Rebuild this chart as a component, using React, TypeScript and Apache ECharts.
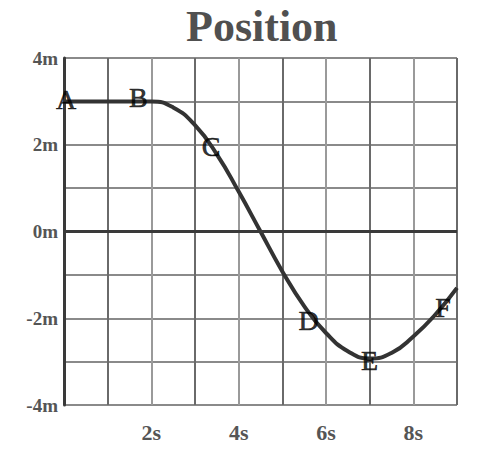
import React, { useEffect, useRef } from "react";
import * as echarts from "echarts";

const timeSec = [0, 1, 2, 2.5, 3, 3.5, 4, 4.5, 5, 5.5, 6, 6.5, 7, 7.5, 8, 8.5, 9];
const positionM = [3, 3, 3, 2.86, 2.45, 1.78, 0.92, 0, -0.92, -1.72, -2.34, -2.76, -2.93, -2.8, -2.42, -1.92, -1.3];

const pointNames = ["A", "B", "C", "D", "E", "F"];
const pointX = [0.05, 1.7, 3.37, 5.6, 7.0, 8.68];
const pointY = [3.05, 3.08, 1.95, -2.05, -2.97, -1.75];

const xTickLabels: Record<number, string> = { 2: "2s", 4: "4s", 6: "6s", 8: "8s" };
const yTickLabels: Record<number, string> = { 4: "4m", 2: "2m", 0: "0m", [-2]: "-2m", [-4]: "-4m" };

export default function App() {
  const ref = useRef<HTMLDivElement>(null);
  useEffect(() => {
    if (!ref.current) return;
    const chart = echarts.init(ref.current, null, { renderer: "svg" });
    const serif = "Liberation Serif";
    chart.setOption({
      animation: false,
      backgroundColor: "#fff",
      title: {
        text: "Position",
        left: 181,
        top: -1,
        textStyle: { fontFamily: serif, fontSize: 44, fontWeight: "bold", color: "#505050" },
      },
      grid: { left: 64, top: 58, width: 393, height: 347, containLabel: false },
      xAxis: {
        type: "value",
        min: 0,
        max: 9,
        interval: 1,
        axisLine: { show: false },
        axisTick: { show: false },
        axisLabel: {
          formatter: (v: number) => xTickLabels[v] ?? "",
          fontFamily: serif,
          fontSize: 22,
          fontWeight: "bold",
          color: "#555",
          margin: 16,
        },
        splitLine: { show: true, lineStyle: { color: ["#9a9a9a", "#6a6a6a"], width: 2 } },
      },
      yAxis: {
        type: "value",
        min: -4,
        max: 4,
        interval: 1,
        axisLine: { show: true, lineStyle: { color: "#3a3a3a", width: 3 } },
        axisTick: { show: false },
        axisLabel: {
          formatter: (v: number) => yTickLabels[v] ?? "",
          fontFamily: serif,
          fontSize: 19,
          fontWeight: "bold",
          color: "#555",
          margin: 6,
        },
        splitLine: { show: true, lineStyle: { color: "#8a8a8a", width: 2 } },
      },
      series: [
        {
          type: "line",
          data: timeSec.map((t, i) => [t, positionM[i]]),
          smooth: 0.5,
          symbol: "none",
          lineStyle: { color: "#333", width: 4 },
          markLine: {
            silent: true,
            symbol: "none",
            label: { show: false },
            lineStyle: { color: "#3a3a3a", width: 3, type: "solid" },
            data: [{ yAxis: 0 }],
          },
          z: 3,
        },
        {
          type: "scatter",
          data: pointNames.map((n, i) => ({ name: n, value: [pointX[i], pointY[i]] })),
          symbolSize: 1,
          itemStyle: { color: "rgba(0,0,0,0)" },
          label: {
            show: true,
            position: "inside",
            formatter: "{b}",
            fontFamily: serif,
            fontSize: 28,
            color: "#000",
            textBorderColor: "#000",
            textBorderWidth: 0.6,
          },
          z: 4,
        },
      ],
    });
    return () => chart.dispose();
  }, []);
  return (
    <div
      ref={ref}
      style={{ position: "fixed", left: 0, top: 0, width: 489, height: 449 }}
    />
  );
}
